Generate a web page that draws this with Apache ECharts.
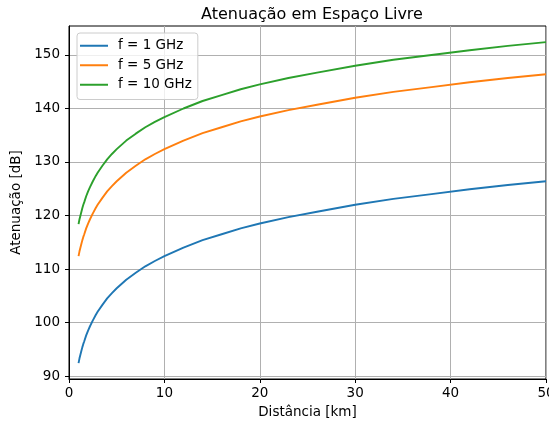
<!DOCTYPE html>
<html>
<head>
<meta charset="utf-8">
<script src="https://cdn.jsdelivr.net/npm/echarts@6/dist/echarts.min.js"></script>
<style>html,body{margin:0;padding:0;background:#fff}#c{width:549px;height:423px}</style>
</head>
<body>
<div id="c"></div>
<script>
const distances = [1, 1.1, 1.2, 1.3, 1.4, 1.5, 1.6, 1.8, 2, 2.2, 2.5, 2.8, 3, 3.5, 4, 4.5, 5, 6, 7, 8, 9, 10, 12, 14, 16, 18, 20, 23, 26, 30, 34, 38, 42, 46, 50];
const loss1GHz = [92.4, 93.3, 94.0, 94.7, 95.4, 96.0, 96.5, 97.6, 98.5, 99.3, 100.4, 101.4, 102.0, 103.3, 104.5, 105.5, 106.4, 108.0, 109.3, 110.5, 111.5, 112.4, 114.0, 115.4, 116.5, 117.6, 118.5, 119.7, 120.7, 122.0, 123.1, 124.0, 124.9, 125.7, 126.4];
const loss5GHz = [112.4, 113.3, 114.0, 114.7, 115.4, 116.0, 116.5, 117.6, 118.5, 119.3, 120.4, 121.4, 122.0, 123.3, 124.5, 125.5, 126.4, 128.0, 129.3, 130.5, 131.5, 132.4, 134.0, 135.4, 136.5, 137.6, 138.5, 139.7, 140.7, 142.0, 143.1, 144.0, 144.9, 145.7, 146.4];
const loss10GHz = [118.4, 119.3, 120.0, 120.7, 121.4, 122.0, 122.5, 123.6, 124.5, 125.3, 126.4, 127.4, 128.0, 129.3, 130.5, 131.5, 132.4, 134.0, 135.3, 136.5, 137.5, 138.4, 140.0, 141.4, 142.5, 143.6, 144.5, 145.7, 146.7, 148.0, 149.1, 150.0, 150.9, 151.7, 152.4];
const seriesNames = ['f = 1 GHz', 'f = 5 GHz', 'f = 10 GHz'];
const yTicks = [90, 100, 110, 120, 130, 140, 150];

const font = 'DejaVu Sans';
const fs = 13.5;
const chart = echarts.init(document.getElementById('c'), null, {renderer: 'canvas'});
const mk = (name, vals, color) => ({
  name: name, type: 'line', data: distances.map((d, i) => [d, vals[i]]),
  smooth: false, symbol: 'none', showSymbol: false,
  lineStyle: {color: color, width: 1.9}, itemStyle: {color: color}, animation: false
});
chart.setOption({
  animation: false,
  title: {
    text: 'Atenuação em Espaço Livre', left: 307, top: 2, textAlign: 'center',
    textStyle: {fontFamily: font, fontSize: 16, fontWeight: 'normal', color: '#000'}
  },
  grid: {left: 69, right: 3, top: 26, bottom: 44, outerBoundsMode: 'none', containLabel: false,
    show: true, borderColor: '#000', borderWidth: 1, backgroundColor: 'transparent'},
  legend: {
    orient: 'vertical', left: 77, top: 33, icon: 'rect', itemWidth: 28, itemHeight: 2, itemGap: 4,
    padding: [5, 6, 7, 3], borderColor: '#cccccc', borderWidth: 1, borderRadius: 3,
    backgroundColor: 'rgba(255,255,255,0.8)',
    textStyle: {fontFamily: font, fontSize: fs, lineHeight: 15.5, color: '#000', padding: [0, 0, 0, 5]},
    data: seriesNames
  },
  xAxis: {
    type: 'value', min: 0, max: 50, interval: 10,
    name: 'Distância [km]', nameLocation: 'middle', nameGap: 26,
    nameTextStyle: {fontFamily: font, fontSize: fs, color: '#000'},
    axisLine: {show: true, lineStyle: {color: '#000', width: 1}},
    axisTick: {show: true, inside: false, length: 4, lineStyle: {color: '#000', width: 1}},
    axisLabel: {fontFamily: font, fontSize: fs, color: '#000', margin: 7},
    splitLine: {show: true, lineStyle: {color: '#b0b0b0', width: 1}}
  },
  yAxis: {
    type: 'value', min: 89.44, max: 155.42,
    name: 'Atenuação [dB]', nameLocation: 'middle', nameGap: 42, nameRotate: 90,
    nameTextStyle: {fontFamily: font, fontSize: fs, color: '#000'},
    axisLine: {show: true, lineStyle: {color: '#000', width: 1}},
    axisTick: {show: true, inside: false, length: 4, customValues: yTicks, lineStyle: {color: '#000', width: 1}},
    axisLabel: {fontFamily: font, fontSize: fs, color: '#000', margin: 9, customValues: yTicks},
    splitLine: {show: true, lineStyle: {color: '#b0b0b0', width: 1}}
  },
  series: [
    mk(seriesNames[0], loss1GHz, '#1f77b4'),
    mk(seriesNames[1], loss5GHz, '#ff7f0e'),
    mk(seriesNames[2], loss10GHz, '#2ca02c')
  ]
});
</script>
</body>
</html>
